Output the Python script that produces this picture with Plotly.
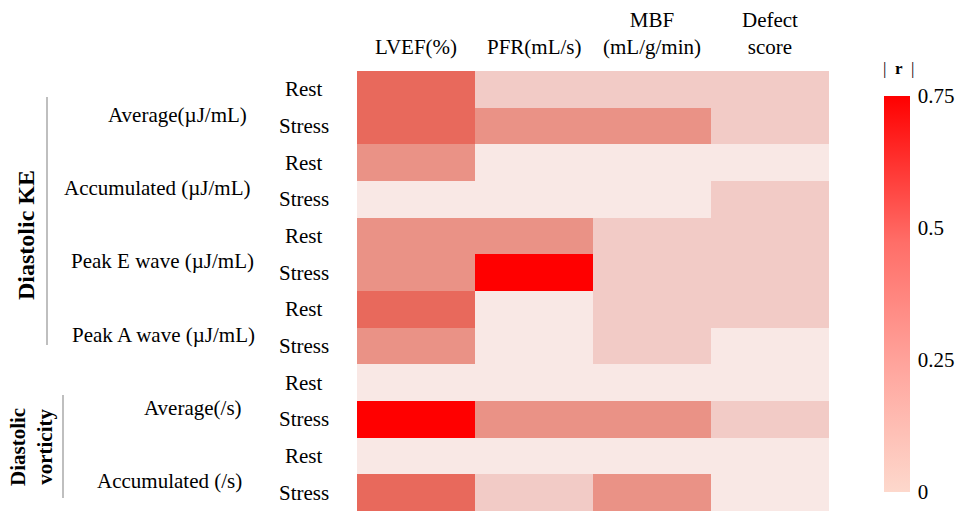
import plotly.graph_objects as go

# ---- data ----
columns = ["LVEF(%)", "PFR(mL/s)", "MBF<br>(mL/g/min)", "Defect<br>score"]
groups = ["Average(µJ/mL)", "Accumulated (µJ/mL)", "Peak E wave (µJ/mL)",
          "Peak A wave (µJ/mL)", "Average(/s)", "Accumulated (/s)"]
conditions = ["Rest", "Stress"]
sections = ["Diastolic KE", "Diastolic<br>vorticity"]

# |r| values, rows = group x condition, cols = columns
r_values = [
    [0.50, 0.15, 0.15, 0.15],  # Average KE Rest
    [0.50, 0.35, 0.35, 0.15],  # Average KE Stress
    [0.35, 0.05, 0.05, 0.05],  # Accumulated KE Rest
    [0.05, 0.05, 0.05, 0.15],  # Accumulated KE Stress
    [0.35, 0.35, 0.15, 0.15],  # Peak E Rest
    [0.35, 0.75, 0.15, 0.15],  # Peak E Stress
    [0.50, 0.05, 0.15, 0.15],  # Peak A Rest
    [0.35, 0.05, 0.15, 0.05],  # Peak A Stress
    [0.05, 0.05, 0.05, 0.05],  # Vorticity Average Rest
    [0.75, 0.35, 0.35, 0.15],  # Vorticity Average Stress
    [0.05, 0.05, 0.05, 0.05],  # Vorticity Accumulated Rest
    [0.50, 0.15, 0.35, 0.05],  # Vorticity Accumulated Stress
]
cbar_ticks = [0, 0.25, 0.5, 0.75]

W, H = 958, 511
FONT = "Liberation Serif, Times New Roman, serif"
FS = 21

n_rows = len(r_values)
row_idx = list(range(n_rows))
col_idx = list(range(len(columns)))

cell_scale = [
    [0.0, "#faeeeb"],
    [0.0667, "#f9e8e5"],
    [0.2, "#f2cbc6"],
    [0.4667, "#ea9286"],
    [0.6667, "#e8695c"],
    [1.0, "#ff0000"],
]
bar_scale = [
    [0.0, "#fdd8cc"],
    [0.3, "#ffa8a0"],
    [0.63, "#ff6e68"],
    [1.0, "#ff0000"],
]

fig = go.Figure()
fig.add_trace(go.Heatmap(
    z=r_values, x=col_idx, y=row_idx,
    zmin=0, zmax=0.75, colorscale=cell_scale, showscale=False,
    hoverinfo="skip",
))
# colour bar only
fig.add_trace(go.Scatter(
    x=[None], y=[None], mode="markers", hoverinfo="skip", showlegend=False,
    marker=dict(color=[0, 0.75], cmin=0, cmax=0.75, colorscale=bar_scale,
                showscale=True,
                colorbar=dict(
                    x=884 / W, xanchor="left", xpad=0,
                    y=1 - 96 / H, yanchor="top", ypad=0,
                    len=(492 - 96) / H, lenmode="fraction",
                    thickness=26, outlinewidth=0,
                    tickvals=cbar_ticks, ticktext=[str(t) for t in cbar_ticks],
                    ticks="outside", ticklen=4, tickcolor="rgba(0,0,0,0)",
                    tickfont=dict(family=FONT, size=FS, color="black"),
                )),
))

x0, x1 = 357 / W, 829 / W
fig.update_xaxes(domain=[x0, x1], range=[-0.5, len(columns) - 0.5],
                 showticklabels=False, showgrid=False, zeroline=False)
fig.update_yaxes(domain=[0, 1 - 71 / H], range=[n_rows - 0.5, -0.5],
                 showticklabels=False, showgrid=False, zeroline=False)

ann = []
# column headers
for i, c in enumerate(columns):
    ann.append(dict(x=i, xref="x", xanchor="center", y=1 - 61 / H, yref="paper",
                    yanchor="bottom", text=c, showarrow=False,
                    font=dict(family=FONT, size=FS, color="black")))
# Rest / Stress labels
for r in row_idx:
    ann.append(dict(x=304 / W, xref="paper", xanchor="center", y=r, yref="y",
                    yanchor="middle", text=conditions[r % 2], showarrow=False,
                    font=dict(family=FONT, size=FS, color="black")))
# group labels
group_right = [249, 252, 256, 257, 244, 244]
for g, name in enumerate(groups):
    ann.append(dict(x=group_right[g] / W, xref="paper", xanchor="right",
                    y=2 * g + 0.5, yref="y", yanchor="middle", yshift=-7,
                    text=name, showarrow=False,
                    font=dict(family=FONT, size=FS, color="black")))
# section labels
ann.append(dict(x=26 / W, xref="paper", xanchor="center",
                y=1 - 235 / H, yref="paper", yanchor="middle",
                text="<b>" + sections[0] + "</b>", textangle=-90, showarrow=False,
                font=dict(family=FONT, size=24, color="black")))
ann.append(dict(x=31 / W, xref="paper", xanchor="center",
                y=1 - 447 / H, yref="paper", yanchor="middle",
                text="<b>" + sections[1] + "</b>", textangle=-90, showarrow=False,
                font=dict(family=FONT, size=21, color="black")))
# colour bar title
ann.append(dict(x=898 / W, xref="paper", xanchor="center",
                y=1 - 69 / H, yref="paper", yanchor="middle",
                text="|  <b>r</b>  |", showarrow=False,
                font=dict(family=FONT, size=17, color="black")))

shapes = [
    dict(type="line", xref="paper", yref="paper", x0=47 / W, x1=47 / W,
         y0=1 - 97 / H, y1=1 - 345 / H, line=dict(color="#aaaaaa", width=1.5)),
    dict(type="line", xref="paper", yref="paper", x0=63 / W, x1=63 / W,
         y0=1 - 395 / H, y1=1 - 498 / H, line=dict(color="#aaaaaa", width=1.5)),
]

fig.update_layout(
    width=W, height=H, margin=dict(l=0, r=0, t=0, b=0),
    paper_bgcolor="white", plot_bgcolor="white",
    annotations=ann, shapes=shapes, showlegend=False,
)
fig.write_html("out.html", config={"displayModeBar": False},
               post_script="document.body.style.margin='0px';"
                           "document.body.style.overflow='hidden';")
